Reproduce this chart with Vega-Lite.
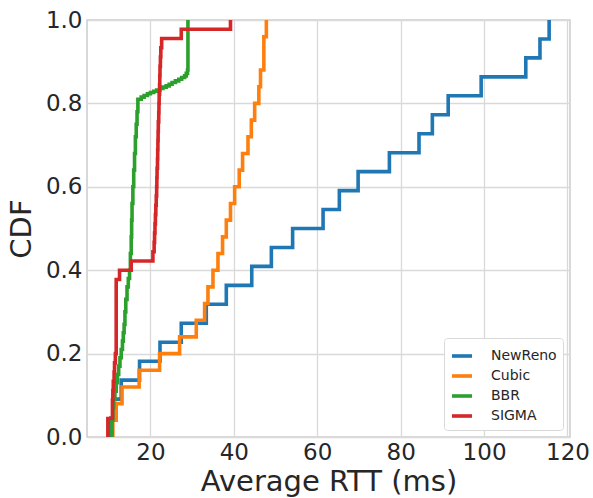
{
  "$schema": "https://vega.github.io/schema/vega-lite/v6.json",
  "width": 483,
  "height": 417,
  "autosize": {"type": "none"},
  "padding": {"left": 87, "top": 20, "right": 23, "bottom": 61},
  "background": "white",
  "data": {
    "values": [
      {"algo": "NewReno", "rtt": 10.5, "cdf": 0},
      {"algo": "NewReno", "rtt": 10.5, "cdf": 0.0455},
      {"algo": "NewReno", "rtt": 11.0, "cdf": 0.0909},
      {"algo": "NewReno", "rtt": 13.0, "cdf": 0.1364},
      {"algo": "NewReno", "rtt": 17.4, "cdf": 0.1818},
      {"algo": "NewReno", "rtt": 22.3, "cdf": 0.2273},
      {"algo": "NewReno", "rtt": 27.4, "cdf": 0.2727},
      {"algo": "NewReno", "rtt": 33.4, "cdf": 0.3182},
      {"algo": "NewReno", "rtt": 38.2, "cdf": 0.3636},
      {"algo": "NewReno", "rtt": 44.3, "cdf": 0.4091},
      {"algo": "NewReno", "rtt": 49.0, "cdf": 0.4545},
      {"algo": "NewReno", "rtt": 54.1, "cdf": 0.5},
      {"algo": "NewReno", "rtt": 61.4, "cdf": 0.5455},
      {"algo": "NewReno", "rtt": 65.3, "cdf": 0.5909},
      {"algo": "NewReno", "rtt": 69.8, "cdf": 0.6364},
      {"algo": "NewReno", "rtt": 77.3, "cdf": 0.6818},
      {"algo": "NewReno", "rtt": 84.4, "cdf": 0.7273},
      {"algo": "NewReno", "rtt": 87.6, "cdf": 0.7727},
      {"algo": "NewReno", "rtt": 91.4, "cdf": 0.8182},
      {"algo": "NewReno", "rtt": 99.3, "cdf": 0.8636},
      {"algo": "NewReno", "rtt": 110.0, "cdf": 0.9091},
      {"algo": "NewReno", "rtt": 113.4, "cdf": 0.9545},
      {"algo": "NewReno", "rtt": 115.6, "cdf": 1.0},

      {"algo": "Cubic", "rtt": 11.0, "cdf": 0},
      {"algo": "Cubic", "rtt": 11.0, "cdf": 0.04},
      {"algo": "Cubic", "rtt": 11.8, "cdf": 0.08},
      {"algo": "Cubic", "rtt": 13.2, "cdf": 0.12},
      {"algo": "Cubic", "rtt": 17.3, "cdf": 0.16},
      {"algo": "Cubic", "rtt": 22.2, "cdf": 0.2},
      {"algo": "Cubic", "rtt": 27.0, "cdf": 0.24},
      {"algo": "Cubic", "rtt": 31.0, "cdf": 0.28},
      {"algo": "Cubic", "rtt": 33.0, "cdf": 0.32},
      {"algo": "Cubic", "rtt": 33.8, "cdf": 0.36},
      {"algo": "Cubic", "rtt": 35.0, "cdf": 0.4},
      {"algo": "Cubic", "rtt": 36.2, "cdf": 0.44},
      {"algo": "Cubic", "rtt": 37.3, "cdf": 0.48},
      {"algo": "Cubic", "rtt": 38.2, "cdf": 0.52},
      {"algo": "Cubic", "rtt": 39.2, "cdf": 0.56},
      {"algo": "Cubic", "rtt": 40.2, "cdf": 0.6},
      {"algo": "Cubic", "rtt": 41.3, "cdf": 0.64},
      {"algo": "Cubic", "rtt": 42.1, "cdf": 0.68},
      {"algo": "Cubic", "rtt": 43.4, "cdf": 0.72},
      {"algo": "Cubic", "rtt": 44.2, "cdf": 0.76},
      {"algo": "Cubic", "rtt": 45.0, "cdf": 0.8},
      {"algo": "Cubic", "rtt": 46.0, "cdf": 0.84},
      {"algo": "Cubic", "rtt": 46.4, "cdf": 0.88},
      {"algo": "Cubic", "rtt": 47.2, "cdf": 0.96},
      {"algo": "Cubic", "rtt": 47.8, "cdf": 1.0},

      {"algo": "BBR", "rtt": 10.6, "cdf": 0},
      {"algo": "BBR", "rtt": 10.8, "cdf": 0.04},
      {"algo": "BBR", "rtt": 11.0, "cdf": 0.07},
      {"algo": "BBR", "rtt": 11.2, "cdf": 0.09},
      {"algo": "BBR", "rtt": 11.5, "cdf": 0.11},
      {"algo": "BBR", "rtt": 11.8, "cdf": 0.13},
      {"algo": "BBR", "rtt": 12.1, "cdf": 0.15},
      {"algo": "BBR", "rtt": 12.4, "cdf": 0.17},
      {"algo": "BBR", "rtt": 12.7, "cdf": 0.19},
      {"algo": "BBR", "rtt": 13.0, "cdf": 0.21},
      {"algo": "BBR", "rtt": 13.3, "cdf": 0.23},
      {"algo": "BBR", "rtt": 13.5, "cdf": 0.25},
      {"algo": "BBR", "rtt": 13.7, "cdf": 0.27},
      {"algo": "BBR", "rtt": 13.9, "cdf": 0.3},
      {"algo": "BBR", "rtt": 14.1, "cdf": 0.33},
      {"algo": "BBR", "rtt": 14.4, "cdf": 0.36},
      {"algo": "BBR", "rtt": 14.7, "cdf": 0.38},
      {"algo": "BBR", "rtt": 15.0, "cdf": 0.4},
      {"algo": "BBR", "rtt": 15.2, "cdf": 0.44},
      {"algo": "BBR", "rtt": 15.4, "cdf": 0.48},
      {"algo": "BBR", "rtt": 15.5, "cdf": 0.52},
      {"algo": "BBR", "rtt": 15.6, "cdf": 0.56},
      {"algo": "BBR", "rtt": 15.8, "cdf": 0.6},
      {"algo": "BBR", "rtt": 16.0, "cdf": 0.64},
      {"algo": "BBR", "rtt": 16.2, "cdf": 0.68},
      {"algo": "BBR", "rtt": 16.4, "cdf": 0.72},
      {"algo": "BBR", "rtt": 16.6, "cdf": 0.75},
      {"algo": "BBR", "rtt": 16.8, "cdf": 0.78},
      {"algo": "BBR", "rtt": 17.0, "cdf": 0.81},
      {"algo": "BBR", "rtt": 17.8, "cdf": 0.815},
      {"algo": "BBR", "rtt": 18.5, "cdf": 0.819},
      {"algo": "BBR", "rtt": 19.3, "cdf": 0.823},
      {"algo": "BBR", "rtt": 20.0, "cdf": 0.826},
      {"algo": "BBR", "rtt": 20.8, "cdf": 0.829},
      {"algo": "BBR", "rtt": 21.5, "cdf": 0.832},
      {"algo": "BBR", "rtt": 22.3, "cdf": 0.836},
      {"algo": "BBR", "rtt": 23.0, "cdf": 0.839},
      {"algo": "BBR", "rtt": 23.8, "cdf": 0.842},
      {"algo": "BBR", "rtt": 24.5, "cdf": 0.846},
      {"algo": "BBR", "rtt": 25.2, "cdf": 0.85},
      {"algo": "BBR", "rtt": 26.0, "cdf": 0.854},
      {"algo": "BBR", "rtt": 26.8, "cdf": 0.858},
      {"algo": "BBR", "rtt": 27.5, "cdf": 0.862},
      {"algo": "BBR", "rtt": 28.2, "cdf": 0.866},
      {"algo": "BBR", "rtt": 28.6, "cdf": 0.872},
      {"algo": "BBR", "rtt": 28.9, "cdf": 0.88},
      {"algo": "BBR", "rtt": 29.0, "cdf": 1.0},

      {"algo": "SIGMA", "rtt": 9.8, "cdf": 0},
      {"algo": "SIGMA", "rtt": 9.8, "cdf": 0.0444},
      {"algo": "SIGMA", "rtt": 10.9, "cdf": 0.0889},
      {"algo": "SIGMA", "rtt": 11.0, "cdf": 0.1111},
      {"algo": "SIGMA", "rtt": 11.1, "cdf": 0.1333},
      {"algo": "SIGMA", "rtt": 11.3, "cdf": 0.1556},
      {"algo": "SIGMA", "rtt": 11.4, "cdf": 0.1778},
      {"algo": "SIGMA", "rtt": 11.6, "cdf": 0.2},
      {"algo": "SIGMA", "rtt": 11.8, "cdf": 0.3778},
      {"algo": "SIGMA", "rtt": 12.6, "cdf": 0.4},
      {"algo": "SIGMA", "rtt": 15.4, "cdf": 0.4222},
      {"algo": "SIGMA", "rtt": 20.6, "cdf": 0.4444},
      {"algo": "SIGMA", "rtt": 20.9, "cdf": 0.4667},
      {"algo": "SIGMA", "rtt": 21.0, "cdf": 0.4889},
      {"algo": "SIGMA", "rtt": 21.1, "cdf": 0.5111},
      {"algo": "SIGMA", "rtt": 21.2, "cdf": 0.5333},
      {"algo": "SIGMA", "rtt": 21.3, "cdf": 0.5556},
      {"algo": "SIGMA", "rtt": 21.4, "cdf": 0.5778},
      {"algo": "SIGMA", "rtt": 21.5, "cdf": 0.6},
      {"algo": "SIGMA", "rtt": 21.55, "cdf": 0.6222},
      {"algo": "SIGMA", "rtt": 21.6, "cdf": 0.6444},
      {"algo": "SIGMA", "rtt": 21.7, "cdf": 0.6667},
      {"algo": "SIGMA", "rtt": 21.75, "cdf": 0.6889},
      {"algo": "SIGMA", "rtt": 21.8, "cdf": 0.7111},
      {"algo": "SIGMA", "rtt": 21.85, "cdf": 0.7333},
      {"algo": "SIGMA", "rtt": 21.9, "cdf": 0.7556},
      {"algo": "SIGMA", "rtt": 22.0, "cdf": 0.7778},
      {"algo": "SIGMA", "rtt": 22.05, "cdf": 0.8},
      {"algo": "SIGMA", "rtt": 22.1, "cdf": 0.8222},
      {"algo": "SIGMA", "rtt": 22.2, "cdf": 0.8444},
      {"algo": "SIGMA", "rtt": 22.25, "cdf": 0.8667},
      {"algo": "SIGMA", "rtt": 22.3, "cdf": 0.8889},
      {"algo": "SIGMA", "rtt": 22.4, "cdf": 0.9111},
      {"algo": "SIGMA", "rtt": 22.5, "cdf": 0.9333},
      {"algo": "SIGMA", "rtt": 22.7, "cdf": 0.9556},
      {"algo": "SIGMA", "rtt": 27.4, "cdf": 0.9778},
      {"algo": "SIGMA", "rtt": 39.2, "cdf": 1.0}
    ]
  },
  "mark": {"type": "line", "interpolate": "step-after", "strokeWidth": 3.6, "clip": true, "strokeJoin": "miter"},
  "encoding": {
    "x": {
      "field": "rtt", "type": "quantitative",
      "scale": {"domain": [4.8, 120.6], "nice": false, "zero": false},
      "axis": {"values": [20, 40, 60, 80, 100, 120], "title": "Average RTT (ms)", "labelPadding": 4, "titlePadding": 3}
    },
    "y": {
      "field": "cdf", "type": "quantitative",
      "scale": {"domain": [0, 1], "nice": false},
      "axis": {"values": [0, 0.2, 0.4, 0.6, 0.8, 1.0], "format": ".1f", "title": "CDF", "labelPadding": 5, "titlePadding": 9}
    },
    "color": {
      "field": "algo", "type": "nominal",
      "scale": {"domain": ["NewReno", "Cubic", "BBR", "SIGMA"], "range": ["#1f77b4", "#ff7f0e", "#2ca02c", "#d62728"]},
      "legend": {"title": null}
    },
    "order": {"field": "cdf", "type": "quantitative"}
  },
  "config": {
    "font": "DejaVu Sans",
    "view": {"stroke": "#cccccc", "strokeWidth": 1.5},
    "axis": {
      "grid": true, "gridColor": "#d9d9d9", "gridWidth": 1.3,
      "domain": false, "ticks": false,
      "labelFont": "DejaVu Sans", "labelFontSize": 23, "labelColor": "#262626",
      "titleFont": "DejaVu Sans", "titleFontSize": 29, "titleColor": "#262626", "titleFontWeight": "normal"
    },
    "legend": {
      "orient": "none", "legendX": 357, "legendY": 318,
      "symbolType": "stroke", "symbolStrokeWidth": 3.6, "symbolSize": 400,
      "labelFont": "DejaVu Sans", "labelFontSize": 14, "labelColor": "#262626", "labelOffset": 17,
      "padding": 6, "rowPadding": 0,
      "strokeColor": "#d9d9d9", "fillColor": "white", "cornerRadius": 3
    }
  }
}
